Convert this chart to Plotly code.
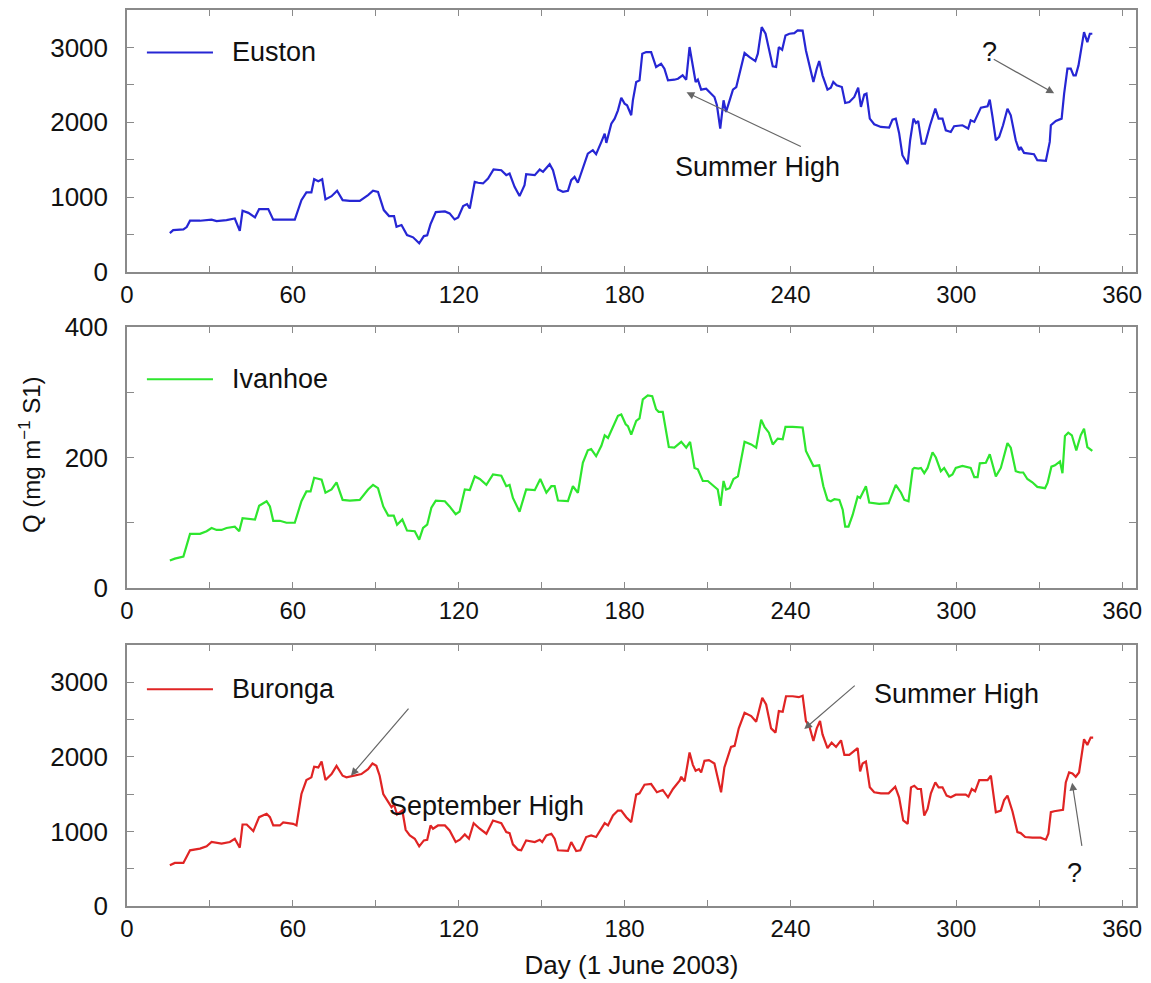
import plotly.graph_objects as go

# ---------------- data ----------------
euston_day = [15.5,16.7,20.4,21.6,22.8,26.4,30.6,32.4,36,39,40.8,41.8,43.9,46.3,47.8,51.1,52.9,60.7,63.1,64.9,
              66.7,67.7,69.2,70.6,71.8,74,76,78,80.6,84.2,87.2,89,90.8,92.9,94.8,96.6,97.5,99.3,101.3,103.5,
              105.7,107.4,108.6,109.8,111.7,115,116.7,118.5,119.8,121.6,123,124,125.8,127,128.8,130.6,132.6,135.4,137.2,138.4,
              140.2,142,143.8,144.4,147.5,149.3,150.5,152.9,154.1,155.9,157.7,159.5,160.7,161.9,163.1,164.7,166.7,168.5,169.7,171.6,
              172.8,173.4,175.2,176.4,177.6,178.8,180,180.9,182.4,183,184.2,185.4,186.4,187.8,189.6,191.4,193.2,194.4,195.7,198,
              199.3,201,202.3,203.5,204.7,205.7,206.5,207.7,209.5,211.3,212.5,213.4,214.6,215.8,216.7,218,219.2,220.4,221.6,223.4,
              225.2,227.3,228.2,229.6,231,232.2,233.6,234.8,235.8,237,238.2,239.6,241.4,242.6,244.4,245.6,246.8,248.3,249.5,250.4,
              251.6,253.4,254.6,255.5,256.7,258.6,259.8,261.3,263.1,264.5,265.5,266.7,267.5,268.7,270.3,272.7,275.7,276.9,278.1,279.3,
              280.5,282.4,283.3,284.5,285.4,286.2,287.5,288.7,290.5,292.4,293.6,295,296.2,298,299.2,302.2,304.3,305.2,306.5,307.4,
              308.9,311.3,312.1,313.1,314.3,315.5,316.9,318.5,319.7,321.5,322.7,323.3,324.5,328.1,329.3,332.4,333.8,334.2,336,338.1,
              339,340.2,341.4,342.4,343.2,344.2,345.4,346.2,347.4,348.3,349.2]
euston_q = [520,560,570,600,685,685,700,680,693,715,550,818,790,730,840,840,700,700,960,1063,
            1063,1240,1213,1240,970,1013,1085,960,950,950,1027,1085,1070,827,747,747,605,627,493,463,
            383,480,490,640,800,810,783,703,730,880,907,849,1205,1192,1183,1249,1369,1360,1294,1316,
            1138,1014,1160,1307,1294,1369,1338,1440,1360,1103,1072,1085,1227,1271,1192,1369,1582,1627,1573,1738,
            1849,1725,1982,2049,2160,2329,2249,2227,2094,2293,2538,2560,2916,2938,2938,2738,2782,2716,2560,2569,
            2582,2627,2569,3005,2738,2538,2569,2436,2449,2383,2338,2227,1916,2293,2138,2293,2436,2471,2649,2925,
            2871,2818,2916,3271,3183,2982,2747,2738,3005,2969,3160,3183,3191,3227,3225,2960,2760,2538,2716,2818,
            2627,2436,2462,2538,2493,2471,2258,2271,2338,2462,2205,2369,2382,2049,1974,1938,1929,2036,2049,1858,
            1560,1440,1760,2049,1991,2018,1716,1716,1960,2182,2049,2049,1893,1871,1947,1960,1916,2027,2005,2071,
            2196,2213,2302,2071,1760,1805,1960,2182,2094,1760,1627,1671,1591,1574,1494,1485,1738,1960,2018,2049,
            2382,2716,2716,2627,2627,2760,3049,3205,3071,3183,3183]

ivanhoe_day = [15.5,17.3,20.4,21.6,22.8,26.4,28.8,30.6,32.4,34.2,36,39,40.6,41.8,43.9,46.3,47.8,50.5,51.7,52.9,
               55.3,57.7,60.7,63.1,64.9,66.4,67.7,70.4,71.8,74,75.8,78,80.6,84.2,87.2,89,90.8,92.7,94.5,96.5,
               97.7,99.6,101.3,104.1,105.7,107.1,108.6,110.1,111.7,115,116.7,118.9,120.3,122.2,124,125.8,127.6,130,132.4,135.4,
               137.2,138.4,139.6,142,144.4,147.5,149.5,151.7,153.5,154.7,155.9,159.5,161.3,163.1,164.9,166.7,167.9,169.7,171.6,172.8,
               174,176,177.6,178.8,180.4,181.2,182.4,184.2,185.4,186.6,188.4,190,191.4,192.3,193.8,196,198,200.5,202.3,203.7,
               205.3,206.5,208.3,210.1,211.9,213.7,214.7,215.8,216.7,218,219.4,221,223.4,225.8,227.6,229.4,230.6,232.2,233.6,235.4,
               237.2,238.2,240.8,244.4,245.6,246.8,248.3,250.4,251.9,253.4,254.6,255.9,257.7,258.9,259.8,261,262.5,264.3,265.2,267.3,
               268.5,272.1,275.5,278.1,280,281.2,282.7,284.2,284.8,286.3,287.2,288.4,289.6,291.4,292.6,294.4,295.6,297.4,298.6,299.8,
               302.2,305.2,306.5,307.7,308.5,310.7,312.1,314.3,316.1,318.5,319.7,321.5,323,324.2,325.7,327.5,329.3,332.1,333,334.4,
               335.7,337.5,338.4,339.3,340.5,341.8,343.4,345,346.2,347.4,349.2]
ivanhoe_q = [42,45,48,64,83,83,87,92,89,89,92,94,87,107,106,105,126,133,125,103,
             103,100,100,133,148,148,169,166,146,151,162,135,134,135,151,158,153,125,111,111,
             97,105,88,87,74,92,97,123,134,133,125,113,117,151,150,171,167,158,174,172,
             156,158,138,117,151,150,167,146,156,156,134,133,156,146,192,211,213,202,218,234,
             230,248,264,266,251,248,235,256,260,289,295,294,274,270,270,216,215,224,215,224,
             184,182,164,164,158,151,126,164,151,153,167,171,224,220,215,258,247,238,220,229,
             228,247,247,246,210,200,187,188,156,135,133,136,135,120,94,94,112,140,138,156,
             131,129,130,158,146,135,133,182,184,183,184,176,184,208,200,179,184,171,174,184,
             187,184,170,170,191,192,205,171,184,222,215,179,177,177,167,162,155,153,161,186,
             188,194,176,233,238,234,211,234,244,216,210]

buronga_day = [15.5,17.3,20.4,22.8,26.4,28.8,30.6,34.2,37.2,39,40.8,41.8,43.3,45.7,47.8,50.5,51.7,52.9,55.3,56.5,
               60.1,61.3,63.1,64.9,66.7,67.7,69.2,70.4,71.8,74,75.8,78,79.4,81.8,84.8,87.2,88.8,90.2,91.4,92.7,
               93.9,95.7,96.6,97.7,99.6,100.8,102.3,104.1,105.7,107.4,108.6,109.8,110.7,112.5,115,116.7,118.9,120.4,122.2,123.7,
               125.4,127.6,130,132.4,135.4,137.2,138.4,139.6,141.4,142.6,144.4,147.5,149.3,150.2,151.7,153.5,154.7,155.9,159.5,160.7,
               162.5,164,166.1,167.9,169.7,171.6,172.8,174,175.8,177.6,178.8,180.6,182.4,184.2,185.4,187.2,189.6,191.7,193.8,195.7,
               197.5,199.9,200.5,201.7,203.5,204.7,205.7,206.9,207.7,208.9,210.5,212.5,213.7,214.9,216.1,217.3,218.5,219.8,221.3,223.4,
               225.8,227.6,229.8,231.2,233,234.6,235.8,237.2,238.4,240.8,243,244.4,245.6,246.8,248.3,249.5,250.7,251.6,253.4,254.9,
               256.5,258.3,259.5,261.3,263.1,264.3,265.2,266.1,267.3,268.7,270.3,272.7,275.5,277.9,279.3,280.8,282.4,283.6,284.8,286,
               287.2,288.4,289.6,290.8,292.4,293.6,295,296.5,298,299.8,303.4,304.4,305.6,306.8,308.3,311.3,312.5,313.7,314.3,316.1,
               317.3,318.5,320.3,322.1,323.3,324.9,327.5,330.5,332.4,333.3,334.2,335.4,336.9,338.6,339.6,340.8,342,343.2,344.4,345.6,
               346.2,347.4,348.6,349.5]
buronga_q = [547,578,578,747,769,800,858,836,858,902,782,1093,1093,1005,1191,1236,1191,1080,1080,1120,
             1102,1080,1502,1689,1725,1867,1858,1938,1689,1769,1880,1747,1725,1747,1769,1836,1911,1880,1747,1502,
             1436,1325,1360,1227,1280,1022,947,902,800,880,889,1080,1036,1080,1080,1013,858,889,960,902,
             1111,1036,969,1147,1111,991,978,827,756,747,880,858,889,858,947,969,902,747,738,858,
             738,747,925,947,925,1036,1111,1080,1214,1280,1280,1191,1125,1493,1511,1627,1636,1525,1556,1458,
             1569,1680,1733,1671,2058,1893,1813,1836,1791,1947,1956,1911,1725,1525,1858,2000,2133,2147,2382,2591,
             2547,2471,2791,2702,2382,2325,2613,2604,2813,2813,2800,2820,2480,2413,2213,2382,2480,2302,2116,2191,
             2133,2222,2027,2027,2080,2116,1805,1911,1938,1591,1525,1511,1511,1600,1458,1147,1102,1591,1613,1569,
             1569,1213,1302,1511,1658,1591,1591,1480,1458,1493,1493,1467,1569,1538,1689,1689,1747,1369,1258,1280,
             1422,1480,1271,991,978,925,916,916,889,969,1258,1271,1280,1289,1658,1791,1778,1733,1791,2102,
             2236,2160,2258,2258]

station_names = ["Euston", "Ivanhoe", "Buronga"]
x_tick_vals = list(range(0, 361, 30))
x_tick_text = [str(v) if v % 60 == 0 else "" for v in x_tick_vals]
big_tick_vals = list(range(0, 3001, 500))
big_tick_text = [str(v) if v % 1000 == 0 else "" for v in big_tick_vals]
mid_tick_vals = [0, 100, 200, 300, 400]
mid_tick_text = ["0", "", "200", "", "400"]

x_title = "Day (1 June 2003)"
y_title = "Q (mg m<sup>−1</sup> S1)"

# ---------------- figure ----------------
FONT = "Liberation Sans, Arial, sans-serif"
colors = ["#2626d4", "#2ee62e", "#e02424"]
series = [(euston_day, euston_q), (ivanhoe_day, ivanhoe_q), (buronga_day, buronga_q)]
axes_suffix = ["", "2", "3"]

fig = go.Figure()
for i, (d, q) in enumerate(series):
    fig.add_trace(go.Scatter(x=d, y=q, mode="lines", name=station_names[i],
                             line=dict(color=colors[i], width=2.2),
                             xaxis="x" + axes_suffix[i], yaxis="y" + axes_suffix[i],
                             showlegend=False))

frame_color = "#8a8a8a"
common_x = dict(range=[0, 365], tickmode="array", tickvals=x_tick_vals, ticktext=x_tick_text,
                ticks="inside", ticklen=6, tickcolor=frame_color, tickwidth=1,
                showline=True, linecolor=frame_color, linewidth=1.5, mirror="allticks",
                showgrid=False, zeroline=False, automargin=False,
                tickfont=dict(family=FONT, size=24, color="#111"))
common_y = dict(ticks="inside", ticklen=7, tickcolor=frame_color, tickwidth=1,
                showline=True, linecolor=frame_color, linewidth=1.5, mirror="allticks",
                showgrid=False, zeroline=False, ticklabelstandoff=12, automargin=False,
                tickfont=dict(family=FONT, size=26, color="#111"), tickmode="array")

# the page body adds an 8px offset, so the figure is 16px smaller and margins compensate
W, H = 1143, 975
ML, MR, MT, MB = 119, 15, 2, 77
plot_h = H - MT - MB
def pdom(top_px, bot_px):
    # screen pixel rows (reference) -> paper fractions
    return [(906 - bot_px) / plot_h, (906 - top_px) / plot_h]

doms = [pdom(10, 272), pdom(327, 588), pdom(645, 906)]
layout = dict(width=W, height=H, margin=dict(l=ML, r=MR, t=MT, b=MB, autoexpand=False),
              paper_bgcolor="white", plot_bgcolor="white",
              font=dict(family=FONT, size=26, color="#111"))
for i, s in enumerate(axes_suffix):
    xa = dict(common_x, anchor="y" + s)
    if i == 2:
        xa["title"] = dict(text=x_title, font=dict(family=FONT, size=26, color="#111"), standoff=15)
    ya = dict(common_y, anchor="x" + s, domain=doms[i])
    if i == 1:
        ya.update(range=[0, 400], tickvals=mid_tick_vals, ticktext=mid_tick_text)
    else:
        ya.update(range=[0, 3500], tickvals=big_tick_vals, ticktext=big_tick_text)
    layout["xaxis" + s] = xa
    layout["yaxis" + s] = ya
fig.update_layout(**layout)

# legends (line sample + name) inside each panel
legend_y = [2933, 320, 2907]
for i, s in enumerate(axes_suffix):
    fig.add_shape(type="line", xref="x" + s, yref="y" + s, x0=7.2, x1=31.1,
                  y0=legend_y[i], y1=legend_y[i], line=dict(color=colors[i], width=2))
    fig.add_annotation(xref="x" + s, yref="y" + s, x=37.2, y=legend_y[i], text=station_names[i],
                       showarrow=False, xanchor="left", yanchor="middle",
                       font=dict(family=FONT, size=27, color="#111"))

# annotations: arrows (tip, tail) and labels
arrow_color = "#666666"
arrows = [("", 202.4, 2400, 244.3, 1667), ("", 335.4, 2387, 313.0, 2853),
          ("3", 81.0, 1747, 102.3, 2667), ("3", 245.0, 2373, 263.8, 2973),
          ("3", 341.9, 1653, 345.5, 787)]
for s, x, y, ax, ay in arrows:
    fig.add_annotation(xref="x" + s, yref="y" + s, axref="x" + s, ayref="y" + s,
                       x=x, y=y, ax=ax, ay=ay, text="", showarrow=True,
                       arrowhead=2, arrowsize=1.3, arrowwidth=1.2, arrowcolor=arrow_color)
labels = [("", 228.0, 1400, "Summer High"), ("", 311.9, 2933, "?"),
          ("3", 130.1, 1347, "September High"), ("3", 300.0, 2840, "Summer High"),
          ("3", 342.6, 440, "?")]
for s, x, y, t in labels:
    fig.add_annotation(xref="x" + s, yref="y" + s, x=x, y=y, text=t, showarrow=False,
                       xanchor="center", yanchor="middle",
                       font=dict(family=FONT, size=27, color="#111"))

fig.add_annotation(xref="paper", yref="paper", x=0, y=(906 - 455) / plot_h, xshift=-97,
                   text=y_title, textangle=-90, showarrow=False,
                   xanchor="center", yanchor="middle",
                   font=dict(family=FONT, size=24, color="#111"))

fig.write_html("out.html")
